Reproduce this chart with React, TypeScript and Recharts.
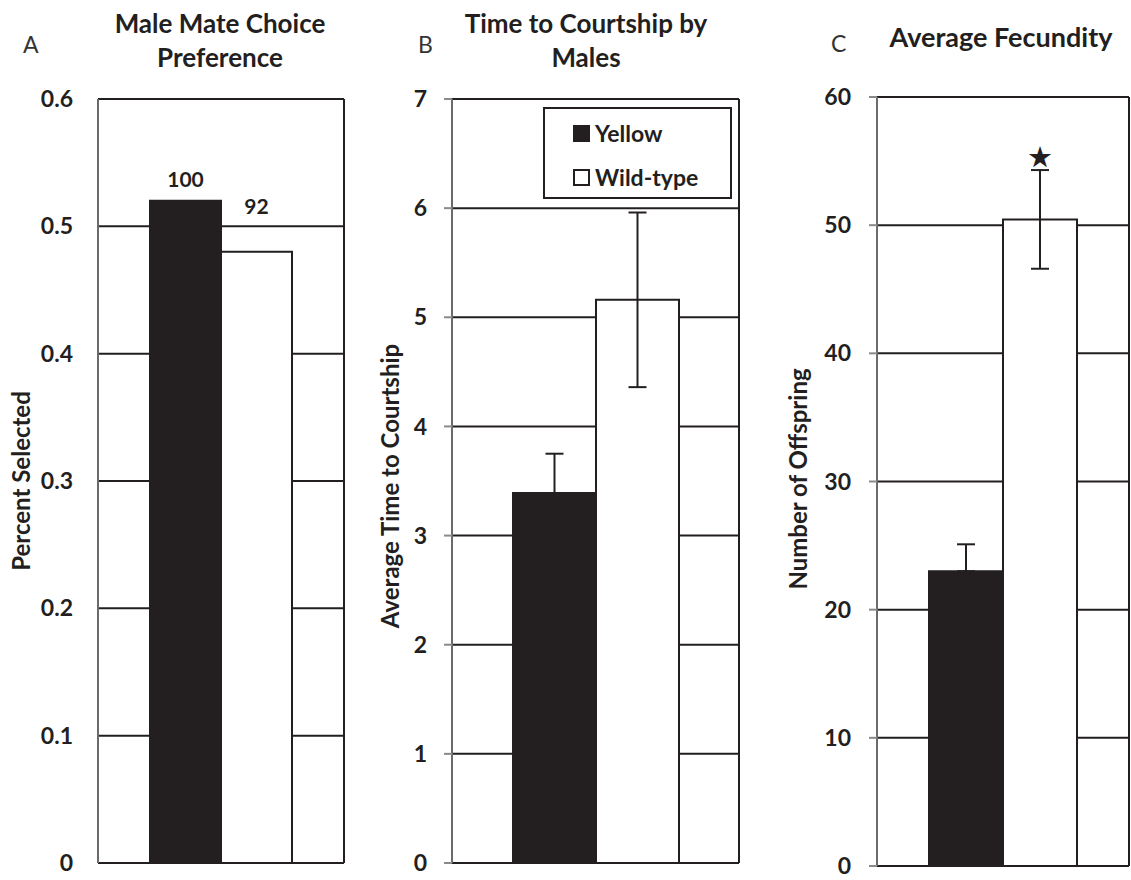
import React from "react";
import { Bar, BarChart, CartesianGrid, ErrorBar, LabelList, Legend, XAxis, YAxis } from "recharts";

// panel A – male mate choice
const choiceGroups = ["Choice"];
const choiceYellow = [0.52];
const choiceWild = [0.48];
const choiceCounts = ["100", "92"];
const choiceTicks = [0, 0.1, 0.2, 0.3, 0.4, 0.5, 0.6];

// panel B – time to courtship
const courtGroups = ["Courtship"];
const courtYellow = [3.39];
const courtYellowErr: [number, number][] = [[0, 0.36]];
const courtWild = [5.16];
const courtWildErr: [number, number][] = [[0.8, 0.8]];
const courtTicks = [0, 1, 2, 3, 4, 5, 6, 7];

// panel C – fecundity
const fecGroups = ["Fecundity"];
const fecYellow = [23];
const fecYellowErr: [number, number][] = [[0, 2.1]];
const fecWild = [50.45];
const fecWildErr: [number, number][] = [[3.85, 3.85]];
const fecTicks = [0, 10, 20, 30, 40, 50, 60];

const legendOrder = ["Yellow", "Wild-type"];

const INK = "#231f20";
const FONT = "Lato, 'Open Sans', sans-serif";

const choiceData = choiceGroups.map((g, i) => ({ g, yellow: choiceYellow[i], wild: choiceWild[i] }));
const courtData = courtGroups.map((g, i) => ({
  g,
  yellow: courtYellow[i],
  yellowErr: courtYellowErr[i],
  wild: courtWild[i],
  wildErr: courtWildErr[i],
}));
const fecData = fecGroups.map((g, i) => ({
  g,
  yellow: fecYellow[i],
  yellowErr: fecYellowErr[i],
  wild: fecWild[i],
  wildErr: fecWildErr[i],
}));

const tickStyle = { fontFamily: FONT, fontSize: 23, fontWeight: 700, fill: "#231f20" };
const countStyle = { fontFamily: FONT, fontSize: 21, fontWeight: 700, fill: "#231f20" };

const frameLines = ({ offset }: any) => [offset.left, offset.left + offset.width];

function LegendBox({ payload }: any) {
  const items = [...(payload || [])].sort((a: any, b: any) => legendOrder.indexOf(a.value) - legendOrder.indexOf(b.value));
  return (
    <div
      style={{
        border: `2px solid ${INK}`,
        width: 185,
        height: 88,
        boxSizing: "content-box",
        fontFamily: FONT,
        fontWeight: 700,
        fontSize: 23,
        color: "#231f20",
        background: "#fff",
      }}
    >
      {items.map((p: any, i: number) => (
        <div key={p.value} style={{ display: "flex", alignItems: "center", marginLeft: 28, marginTop: i === 0 ? 12 : 20, height: 24 }}>
          <span
            style={{
              display: "inline-block",
              width: 13,
              height: 13,
              border: `2px solid ${INK}`,
              background: p.value === "Yellow" ? INK : "#fff",
              marginRight: 5,
            }}
          />
          {p.value}
        </div>
      ))}
    </div>
  );
}

function StarLabel(props: any) {
  const { x, y, width } = props;
  return (
    <text x={x + width / 2} y={y - 52} textAnchor="middle" fontSize={29} fill={INK} fontFamily="DejaVu Sans">
      ★
    </text>
  );
}

export default function App() {
  return (
    <div style={{ position: "absolute", left: 0, top: 0, width: 1131, height: 880, background: "#fff", overflow: "hidden" }}>
      <div style={{ position: "absolute", left: 0, top: 0 }}>
        <BarChart width={360} height={880} data={choiceData} margin={{ top: 99, right: 16, bottom: 17, left: 38 }} barGap={0}>
          <CartesianGrid stroke={INK} strokeWidth={2} verticalCoordinatesGenerator={frameLines} />
          <XAxis dataKey="g" hide />
          <YAxis
            width={60}
            domain={[0, 0.6]}
            ticks={choiceTicks}
            allowDataOverflow
            interval={0}
            tickLine={false}
            tickSize={8}
            tickMargin={17}
            axisLine={{ stroke: "#6b6b6b", strokeWidth: 2 }}
            tick={tickStyle}
          />
          <Bar dataKey="yellow" name="Yellow" fill={INK} stroke={INK} strokeWidth={2} barSize={71} isAnimationActive={false}>
            <LabelList valueAccessor={() => choiceCounts[0]} position="top" offset={14} style={countStyle} />
          </Bar>
          <Bar dataKey="wild" name="Wild-type" fill="#fff" stroke={INK} strokeWidth={2} barSize={71} isAnimationActive={false}>
            <LabelList valueAccessor={() => choiceCounts[1]} position="top" offset={38} style={countStyle} />
          </Bar>
        </BarChart>
      </div>

      <div style={{ position: "absolute", left: 380, top: 0 }}>
        <BarChart width={380} height={880} data={courtData} margin={{ top: 99, right: 21, bottom: 17, left: 12 }} barGap={0}>
          <CartesianGrid stroke={INK} strokeWidth={2} verticalCoordinatesGenerator={frameLines} />
          <XAxis dataKey="g" hide />
          <YAxis
            width={60}
            domain={[0, 7]}
            ticks={courtTicks}
            allowDataOverflow
            interval={0}
            tickSize={8}
            tickMargin={17}
            tickLine={{ stroke: "#8a8a8a", strokeWidth: 2 }}
            axisLine={{ stroke: "#6b6b6b", strokeWidth: 2 }}
            tick={tickStyle}
          />
          <Legend
            layout="vertical"
            align="center"
            verticalAlign="middle"
            content={<LegendBox />}
            wrapperStyle={{ left: 163, top: 107, width: "auto", height: "auto" }}
          />
          <Bar dataKey="yellow" name="Yellow" fill={INK} stroke={INK} strokeWidth={2} barSize={83} isAnimationActive={false}>
            <ErrorBar dataKey="yellowErr" width={9} stroke={INK} strokeWidth={2} />
          </Bar>
          <Bar dataKey="wild" name="Wild-type" fill="#fff" stroke={INK} strokeWidth={2} barSize={83} isAnimationActive={false}>
            <ErrorBar dataKey="wildErr" width={9} stroke={INK} strokeWidth={2} />
          </Bar>
        </BarChart>
      </div>

      <div style={{ position: "absolute", left: 790, top: 0 }}>
        <BarChart width={341} height={880} data={fecData} margin={{ top: 97, right: 2, bottom: 14, left: 27 }} barGap={0}>
          <CartesianGrid stroke={INK} strokeWidth={2} verticalCoordinatesGenerator={frameLines} />
          <XAxis dataKey="g" hide />
          <YAxis
            width={60}
            domain={[0, 60]}
            ticks={fecTicks}
            allowDataOverflow
            interval={0}
            tickSize={8}
            tickMargin={18}
            tickLine={{ stroke: "#8a8a8a", strokeWidth: 2 }}
            axisLine={{ stroke: "#6b6b6b", strokeWidth: 2 }}
            tick={tickStyle}
          />
          <Bar dataKey="yellow" name="Yellow" fill={INK} stroke={INK} strokeWidth={2} barSize={74} isAnimationActive={false}>
            <ErrorBar dataKey="yellowErr" width={9} stroke={INK} strokeWidth={2} />
          </Bar>
          <Bar dataKey="wild" name="Wild-type" fill="#fff" stroke={INK} strokeWidth={2} barSize={74} isAnimationActive={false}>
            <ErrorBar dataKey="wildErr" width={9} stroke={INK} strokeWidth={2} />
            <LabelList dataKey="wild" content={<StarLabel />} />
          </Bar>
        </BarChart>
      </div>

      {/* titles, panel letters and axis titles */}
      <svg width={1131} height={880} style={{ position: "absolute", left: 0, top: 0, pointerEvents: "none" }} fontFamily={FONT} fill="#231f20">
        <text x={23} y={53} fontSize={23} fill="#333">A</text>
        <text x={220} y={33} fontSize={26} fontWeight={700} textAnchor="middle">Male Mate Choice</text>
        <text x={220} y={67} fontSize={26} fontWeight={700} textAnchor="middle">Preference</text>
        <text x={418} y={53} fontSize={23} fill="#333">B</text>
        <text x={586} y={33} fontSize={26} fontWeight={700} textAnchor="middle">Time to Courtship by</text>
        <text x={586} y={67} fontSize={26} fontWeight={700} textAnchor="middle">Males</text>
        <text x={831} y={52} fontSize={23} fill="#333">C</text>
        <text x={1001} y={47} fontSize={27} fontWeight={700} textAnchor="middle">Average Fecundity</text>
        <text transform="translate(30,481) rotate(-90)" fontSize={24} fontWeight={700} textAnchor="middle">Percent Selected</text>
        <text transform="translate(399,486) rotate(-90)" fontSize={24} fontWeight={700} textAnchor="middle">Average Time to Courtship</text>
        <text transform="translate(807,479) rotate(-90)" fontSize={24} fontWeight={700} textAnchor="middle">Number of Offspring</text>
      </svg>
    </div>
  );
}
